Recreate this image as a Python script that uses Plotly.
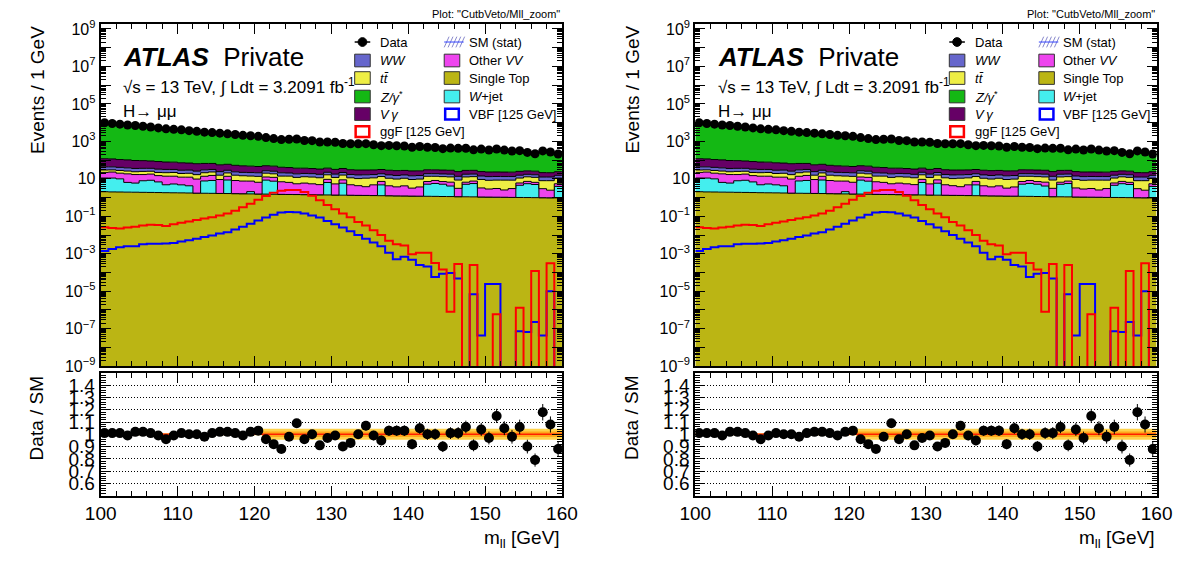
import numpy as np
import plotly.graph_objects as go

W, H = 1194, 565

# ---------------- data ----------------
bin_edges = list(range(100, 161))
bin_centers = [b + 0.5 for b in range(100, 160)]

single_top = [2.05, 2.0, 1.98, 1.95, 1.93, 1.9, 1.88, 1.85, 1.82, 1.8,
              1.78, 1.75, 1.72, 1.7, 1.68, 1.66, 1.64, 1.62, 1.6, 1.57,
              1.55, 1.53, 1.5, 1.48, 1.46, 1.45, 1.43, 1.42, 1.4, 1.38,
              1.36, 1.34, 1.33, 1.31, 1.3, 1.28, 1.26, 1.25, 1.23, 1.22,
              1.2, 1.19, 1.17, 1.16, 1.14, 1.13, 1.11, 1.1, 1.09, 1.07,
              1.06, 1.05, 1.04, 1.02, 1.01, 1.0, 0.99, 0.98, 0.97, 0.96]

w_jet = [9, 9, 8, 4.5, 4, 6, 6.5, 5, 3, 3.5,
         3, 2.5, 0, 6, 6.5, 0, 7, 0, 0, 0.5,
         0, 7, 6, 0, 0, 0, 0, 0, 0, 5,
         0, 4.5, 0, 0, 0, 0, 3.5, 0, 0, 0,
         0, 0, 4, 4.5, 4, 3, 0, 4, 4.5, 0,
         0, 0, 0, 0, 3.5, 4.5, 4, 0, 0, 3]

other_vv = [11, 12, 10, 12, 11, 9, 9.5, 8, 9, 8.5,
            7.5, 8, 8, 6, 7, 7.5, 5, 6.5, 6, 5.5,
            5, 4, 4.5, 5.5, 5, 4, 4.5, 4, 3.5, 3,
            4, 3, 3.5, 3, 2.5, 3.5, 2.5, 3, 2.5, 3,
            2, 2.5, 2, 2.5, 2, 2.5, 2, 1.5, 2, 2.2,
            1.8, 2, 1.5, 2, 1.5, 1.8, 1.5, 2, 1.5, 1.5]

ttbar = [7.5, 7, 8, 7.5, 7, 8, 7.5, 7, 7.5, 8,
         7, 7.5, 7, 7.5, 8, 6.5, 7, 7.5, 7, 6.5,
         7, 7.5, 6.5, 7, 7.5, 6.5, 7, 7, 6.5, 7,
         6.5, 7, 6.5, 6, 7, 6.5, 6, 6.5, 6, 6.5,
         6, 6, 6.5, 5.5, 6, 6, 5.5, 6, 5.5, 6,
         5.5, 5.5, 6, 5.5, 5, 5.5, 5.5, 5, 5.5, 5.5]

ww = [14, 13.5, 13, 12.5, 12, 11.5, 11, 11, 10.5, 10,
      9.5, 9.5, 9, 9, 8.5, 8.5, 8, 8, 7.5, 7.5,
      7.5, 7, 7, 7, 6.5, 6.5, 6.5, 6.5, 6, 6,
      6, 6, 5.8, 5.8, 5.6, 5.6, 5.5, 5.5, 5.4, 5.4,
      5.3, 5.3, 5.2, 5.2, 5.1, 5.1, 5.0, 5.0, 4.9, 4.9,
      4.8, 4.8, 4.7, 4.7, 4.6, 4.6, 4.5, 4.5, 4.5, 4.4]

vgamma = [75, 72, 66, 64, 59, 57, 53, 51, 47, 46,
          43, 40, 38.5, 36, 34.5, 32, 31, 29, 27.5, 26,
          24.5, 23, 22, 20.5, 19.5, 18.5, 17.5, 16.5, 15.8, 14.8,
          14, 13.8, 13.5, 13.3, 13.1, 12.9, 12.7, 12.5, 12.2, 12,
          11.9, 11.7, 11.5, 11.3, 11.1, 10.9, 10.7, 10.6, 10.4, 10.2,
          10, 9.9, 9.7, 9.5, 9.4, 9.2, 9.1, 9.0, 8.8, 8.7]

zgamma = [9650, 8840, 8090, 7410, 6780, 6210, 5690, 5210, 4770, 4360,
          3995, 3655, 3355, 3090, 2850, 2625, 2420, 2230, 2055, 1895,
          1745, 1605, 1480, 1365, 1265, 1188, 1115, 1046, 981, 921,
          864, 810, 760, 713, 669, 627, 588, 556, 535, 514,
          494, 475, 457, 438, 422, 405, 390, 374, 360, 345,
          330, 315, 301, 288, 275, 262, 250, 238, 226, 216]

data = [9870, 9040, 8290, 7440, 7020, 6440, 5840, 5240, 4660, 4400,
        4110, 3730, 3430, 3100, 2950, 2750, 2530, 2310, 2090, 1990,
        1850, 1590, 1410, 1240, 1290, 1340, 1110, 1090, 930, 930,
        895, 765, 742, 750, 754, 655, 591, 607, 585, 562,
        484, 531, 488, 469, 407, 439, 423, 427, 353, 388,
        346, 393, 343, 307, 318, 258, 217, 310, 271, 211]

ratio = [1.01, 1.01, 1.01, 0.99, 1.02, 1.02, 1.01, 0.99, 0.96, 0.99,
         1.01, 1.0, 1.0, 0.98, 1.01, 1.02, 1.02, 1.01, 0.99, 1.02,
         1.03, 0.96, 0.92, 0.88, 0.98, 1.09, 0.96, 1.0, 0.91, 0.97,
         0.99, 0.9, 0.93, 1.0, 1.07, 0.99, 0.95, 1.03, 1.03, 1.03,
         0.92, 1.05, 1.0, 1.0, 0.9, 1.01, 1.01, 1.06, 0.91, 1.04,
         0.97, 1.15, 1.05, 0.98, 1.06, 0.9, 0.79, 1.18, 1.08, 0.88]

ggf = [0.026, 0.024, 0.022, 0.025, 0.028, 0.032, 0.035, 0.034, 0.030, 0.038,
       0.045, 0.052, 0.063, 0.076, 0.089, 0.11, 0.14, 0.20, 0.30, 0.47,
       0.76, 1.2, 1.8, 2.3, 2.5, 2.5, 2.0, 1.26, 0.71, 0.40,
       0.24, 0.14, 0.089, 0.050, 0.032, 0.018, 0.010, 0.005, 0.0032, 0.0028,
       9.3e-4, 1.15e-3, 1.15e-3, 3.2e-4, 1.45e-4, 8.1e-7, 2.8e-4, 0, 2.5e-4, 0,
       0, 5.9e-7, 0, 0, 1.3e-6, 0, 1.2e-4, 0, 3.1e-4, 0]

vbf = [1.4e-3, 1.8e-3, 2.2e-3, 2.5e-3, 2.5e-3, 3.2e-3, 3.4e-3, 3.4e-3, 3.5e-3, 3.8e-3,
       4.5e-3, 5.2e-3, 6.3e-3, 7.9e-3, 9.5e-3, 0.012, 0.014, 0.020, 0.028, 0.040,
       0.060, 0.085, 0.12, 0.16, 0.17, 0.165, 0.14, 0.11, 0.085, 0.056,
       0.038, 0.025, 0.016, 0.010, 6.3e-3, 4.0e-3, 2.5e-3, 1.15e-3, 5.1e-4, 6.9e-4,
       4.8e-4, 2.5e-4, 2.1e-4, 5.8e-5, 8.7e-5, 9.3e-5, 4.8e-5, 0, 6.9e-6, 4.4e-8,
       2.4e-5, 2.4e-5, 0, 0, 7.4e-8, 6.6e-8, 2.3e-7, 4.4e-8, 1.0e-5, 0]

band_outer = [0.008, 0.008, 0.008, 0.008, 0.008, 0.008, 0.008, 0.008, 0.008, 0.008,
              0.008, 0.008, 0.008, 0.008, 0.008, 0.008, 0.008, 0.008, 0.008, 0.008,
              0.008, 0.045, 0.045, 0.045, 0.045, 0.045, 0.045, 0.045, 0.045, 0.045,
              0.045, 0.045, 0.045, 0.045, 0.045, 0.045, 0.045, 0.045, 0.045, 0.045,
              0.045, 0.045, 0.045, 0.045, 0.045, 0.045, 0.045, 0.045, 0.045, 0.045,
              0.045, 0.045, 0.045, 0.045, 0.045, 0.045, 0.045, 0.045, 0.045, 0.045]
band_inner = [0.004, 0.004, 0.004, 0.004, 0.004, 0.004, 0.004, 0.004, 0.004, 0.004,
              0.004, 0.004, 0.004, 0.004, 0.004, 0.004, 0.004, 0.004, 0.004, 0.004,
              0.004, 0.022, 0.022, 0.022, 0.022, 0.022, 0.022, 0.022, 0.022, 0.022,
              0.022, 0.022, 0.022, 0.022, 0.022, 0.022, 0.022, 0.022, 0.022, 0.022,
              0.022, 0.022, 0.022, 0.022, 0.022, 0.022, 0.022, 0.022, 0.022, 0.022,
              0.022, 0.022, 0.022, 0.022, 0.022, 0.022, 0.022, 0.022, 0.022, 0.022]

x_tick_vals = [100, 110, 120, 130, 140, 150, 160]
x_tick_text = ["100", "110", "120", "130", "140", "150", "160"]
ratio_tick_vals = [0.6, 0.7, 0.8, 0.9, 1.0, 1.1, 1.2, 1.3, 1.4]
ratio_tick_text = ["0.6", "0.7", "0.8", "0.9", "1", "1.1", "1.2", "1.3", "1.4"]

# ---------------- styles ----------------
FONT = "Liberation Sans, Arial, Helvetica, sans-serif"
C_ZG = "#14b814"
C_VG = "#660066"
C_WW = "#6666cc"
C_TT = "#eeee44"
C_VV = "#ee44ee"
C_WJ = "#44eeee"
C_ST = "#bbb514"
C_GGF = "#ff0000"
C_VBF = "#0000ff"
C_BAND_OUT = "#ffd24a"
C_BAND_IN = "#ffa61a"
FLOOR = 1e-12

stack = [(single_top, C_ST), (w_jet, C_WJ), (other_vv, C_VV), (ttbar, C_TT),
         (ww, C_WW), (vgamma, C_VG), (zgamma, C_ZG)]


def px(x):
    return x / W


def py(y):
    return 1 - y / H


def step(vals):
    v = [a if a > 0 else FLOOR for a in vals]
    return v + [v[-1]]


fig = go.Figure()

PANEL_DX = [0, 611]
axes_ids = [("x", "y", "x2", "y2"), ("x3", "y3", "x4", "y4")]

for k in range(2):
    xm, ym, xr, yr = axes_ids[k]
    fig.add_trace(go.Scatter(x=bin_edges, y=[FLOOR] * 61, mode="lines",
                             line=dict(width=0, shape="hv"), xaxis=xm, yaxis=ym,
                             showlegend=False, hoverinfo="skip"))
    cum = np.zeros(60)
    for vals, col in stack:
        cum = cum + np.array(vals, dtype=float)
        fig.add_trace(go.Scatter(x=bin_edges, y=step(list(cum)), mode="lines",
                                 line=dict(color="black", width=1, shape="hv"),
                                 fill="tonexty", fillcolor=col, xaxis=xm, yaxis=ym,
                                 showlegend=False, hoverinfo="skip"))
    fig.add_trace(go.Scatter(x=bin_edges, y=step(vbf), mode="lines",
                             line=dict(color=C_VBF, width=2, shape="hv"),
                             xaxis=xm, yaxis=ym, showlegend=False))
    fig.add_trace(go.Scatter(x=bin_edges, y=step(ggf), mode="lines",
                             line=dict(color=C_GGF, width=2, shape="hv"),
                             xaxis=xm, yaxis=ym, showlegend=False))
    fig.add_trace(go.Scatter(x=bin_centers, y=data, mode="markers",
                             marker=dict(color="black", size=9),
                             error_y=dict(type="data", array=list(np.sqrt(data)),
                                          color="black", thickness=1, width=0),
                             xaxis=xm, yaxis=ym, showlegend=False))
    for half, col in [(band_outer, C_BAND_OUT), (band_inner, C_BAND_IN)]:
        lo = [1 - h for h in half]
        hi = [1 + h for h in half]
        fig.add_trace(go.Scatter(x=bin_edges, y=lo + [lo[-1]], mode="lines",
                                 line=dict(width=0, shape="hv"), xaxis=xr, yaxis=yr,
                                 showlegend=False, hoverinfo="skip"))
        fig.add_trace(go.Scatter(x=bin_edges, y=hi + [hi[-1]], mode="lines",
                                 line=dict(width=0, shape="hv"), fill="tonexty",
                                 fillcolor=col, xaxis=xr, yaxis=yr,
                                 showlegend=False, hoverinfo="skip"))
    fig.add_trace(go.Scatter(x=[100, 160], y=[1, 1], mode="lines",
                             line=dict(color="#ff2000", width=1.5),
                             xaxis=xr, yaxis=yr, showlegend=False))
    ratio_err = [r / np.sqrt(d) for r, d in zip(ratio, data)]
    fig.add_trace(go.Scatter(x=bin_centers, y=ratio, mode="markers",
                             marker=dict(color="black", size=10),
                             error_y=dict(type="data", array=ratio_err,
                                          color="black", thickness=1, width=0),
                             xaxis=xr, yaxis=yr, showlegend=False))

# ---------------- axes ----------------
log_major = [10.0 ** e for e in range(-9, 10)]
log_text = []
for e in range(-9, 10):
    if e % 2 == 0:
        log_text.append("")
    elif e == 1:
        log_text.append("10")
    else:
        log_text.append("10<sup>" + (str(e) if e > 0 else "\u2212" + str(-e)) + "</sup>")
log_minor = [m * 10.0 ** e for e in range(-9, 10) for m in range(2, 10)]


def xaxis_cfg(x0, x1, anchor, labels):
    return dict(domain=[px(x0), px(x1)], anchor=anchor, range=[100, 160],
                showline=True, linecolor="black", linewidth=2, mirror="ticks",
                ticks="inside", ticklen=10, tickwidth=1, tickcolor="black",
                tickmode="array", tickvals=x_tick_vals, ticktext=x_tick_text,
                showticklabels=labels, tickfont=dict(size=19, color="black", family=FONT),
                minor=dict(ticks="inside", ticklen=5, tickwidth=1, tickcolor="black",
                           tickmode="array", tickvals=list(range(100, 161, 2)),
                           showgrid=False),
                showgrid=False, zeroline=False)


layout_axes = {}
for k in range(2):
    dx = PANEL_DX[k]
    n_main = "" if k == 0 else "3"
    n_rat = "2" if k == 0 else "4"
    layout_axes["xaxis" + n_main] = xaxis_cfg(87 + dx, 561 + dx, "y" + n_main, False)
    layout_axes["xaxis" + n_rat] = xaxis_cfg(87 + dx, 561 + dx, "y" + n_rat, True)
    layout_axes["yaxis" + n_main] = dict(
        domain=[py(370), py(18)], anchor="x" + n_main, type="log", range=[-9, 9.29],
        showline=True, linecolor="black", linewidth=2, mirror="ticks",
        ticks="inside", ticklen=10, tickwidth=1, tickcolor="black",
        tickmode="array", tickvals=log_major, ticktext=log_text,
        tickfont=dict(size=16, color="black", family=FONT),
        minor=dict(ticks="inside", ticklen=5, tickwidth=1, tickcolor="black",
                   tickmode="array", tickvals=log_minor, showgrid=False),
        showgrid=False, zeroline=False)
    layout_axes["yaxis" + n_rat] = dict(
        domain=[py(503), py(377)], anchor="x" + n_rat, range=[0.5, 1.5],
        showline=True, linecolor="black", linewidth=2, mirror="ticks",
        ticks="inside", ticklen=10, tickwidth=1, tickcolor="black",
        tickmode="array", tickvals=ratio_tick_vals, ticktext=ratio_tick_text,
        tickfont=dict(size=19, color="black", family=FONT),
        minor=dict(ticks="inside", ticklen=5, tickwidth=1, tickcolor="black",
                   tickmode="array", tickvals=[round(0.5 + 0.02 * i, 2) for i in range(51)],
                   showgrid=False),
        showgrid=True, gridcolor="black", gridwidth=1, griddash="1px,2px", zeroline=False)

# ---------------- text + legend ----------------
annotations = []
shapes = []


def text(x, y, s, size, anchor="left", angle=0, yanchor="middle"):
    annotations.append(dict(x=px(x), y=py(y), xref="paper", yref="paper", text=s,
                            showarrow=False, xanchor=anchor, yanchor=yanchor,
                            textangle=angle,
                            font=dict(size=size, color="black", family=FONT)))


legend_rows = [37, 56, 74, 93, 111, 129]
col1 = [("Data", "data", None), ("<i>WW</i>", "box", C_WW), ("<i>t</i><i>t\u0304</i>", "box", C_TT),
        ("<i>Z/\u03b3</i><sup>*</sup>", "box", C_ZG), ("<i>V\u2009\u03b3</i>", "box", C_VG),
        ("ggF [125 GeV]", "line", C_GGF)]
col2 = [("SM (stat)", "hatch", None), ("Other <i>VV</i>", "box", C_VV),
        ("Single Top", "box", C_ST), ("<i>W</i>+jet", "box", C_WJ),
        ("VBF [125 GeV]", "line", C_VBF)]

for k in range(2):
    dx = PANEL_DX[k]
    text(561 + dx, 8, 'Plot: "CutbVeto/Mll_zoom"', 11, anchor="right")
    text(108 + dx, 52, "<b><i>ATLAS</i></b>\u00a0 Private", 26)
    text(108 + dx, 82, "\u221as = 13 TeV, \u222b Ldt = 3.2091 fb<sup>-1</sup>", 17)
    text(108 + dx, 108, "H\u2192 \u03bc\u03bc", 17)
    text(22 + dx, 18, "Events / 1 GeV", 19, anchor="center", angle=-90, yanchor="top")
    text(22 + dx, 378, "Data / SM", 19, anchor="center", angle=-90, yanchor="top")
    text(561 + dx, 548, "m<sub>ll</sub> [GeV]", 19, anchor="right")

    for cols, kx, tx in [(col1, 348, 372), (col2, 440, 463)]:
        for (label, kind, col), yy in zip(cols, legend_rows):
            x0, x1 = kx + dx, kx + dx + 16
            y0, y1 = yy - 6.5, yy + 6.5
            if kind == "box":
                shapes.append(dict(type="rect", xref="paper", yref="paper",
                                   x0=px(x0), x1=px(x1), y0=py(y1), y1=py(y0),
                                   fillcolor=col, line=dict(color="#333333", width=1)))
            elif kind == "line":
                shapes.append(dict(type="rect", xref="paper", yref="paper",
                                   x0=px(x0 + 1), x1=px(x1 - 1), y0=py(y1 - 1), y1=py(y0 + 1),
                                   fillcolor="white", line=dict(color=col, width=2.5)))
            elif kind == "data":
                shapes.append(dict(type="line", xref="paper", yref="paper",
                                   x0=px(x0), x1=px(x1), y0=py(yy), y1=py(yy),
                                   line=dict(color="black", width=1.5)))
                shapes.append(dict(type="circle", xref="paper", yref="paper",
                                   x0=px(x0 + 3.5), x1=px(x1 - 3.5), y0=py(yy + 4.5), y1=py(yy - 4.5),
                                   fillcolor="black", line=dict(color="black", width=1)))
            elif kind == "hatch":
                for j in range(5):
                    hx = x0 + j * 4
                    shapes.append(dict(type="line", xref="paper", yref="paper",
                                       x0=px(hx), x1=px(hx + 5), y0=py(y1 - 1), y1=py(y0 + 1),
                                       line=dict(color="#8888cc", width=1)))
                shapes.append(dict(type="line", xref="paper", yref="paper",
                                   x0=px(x0), x1=px(x1 + 4), y0=py(yy), y1=py(yy),
                                   line=dict(color="#3344ff", width=1)))
            text(tx + dx, yy, label, 13)

fig.update_layout(
    width=W, height=H, margin=dict(l=0, r=0, t=0, b=0),
    paper_bgcolor="white", plot_bgcolor="white",
    font=dict(family=FONT, color="black"),
    showlegend=False, annotations=annotations, shapes=shapes,
    **layout_axes)

fig.write_html("out.html",
               post_script="document.body.style.margin='0';document.body.style.padding='0';"
                           "document.body.style.overflow='hidden';")
